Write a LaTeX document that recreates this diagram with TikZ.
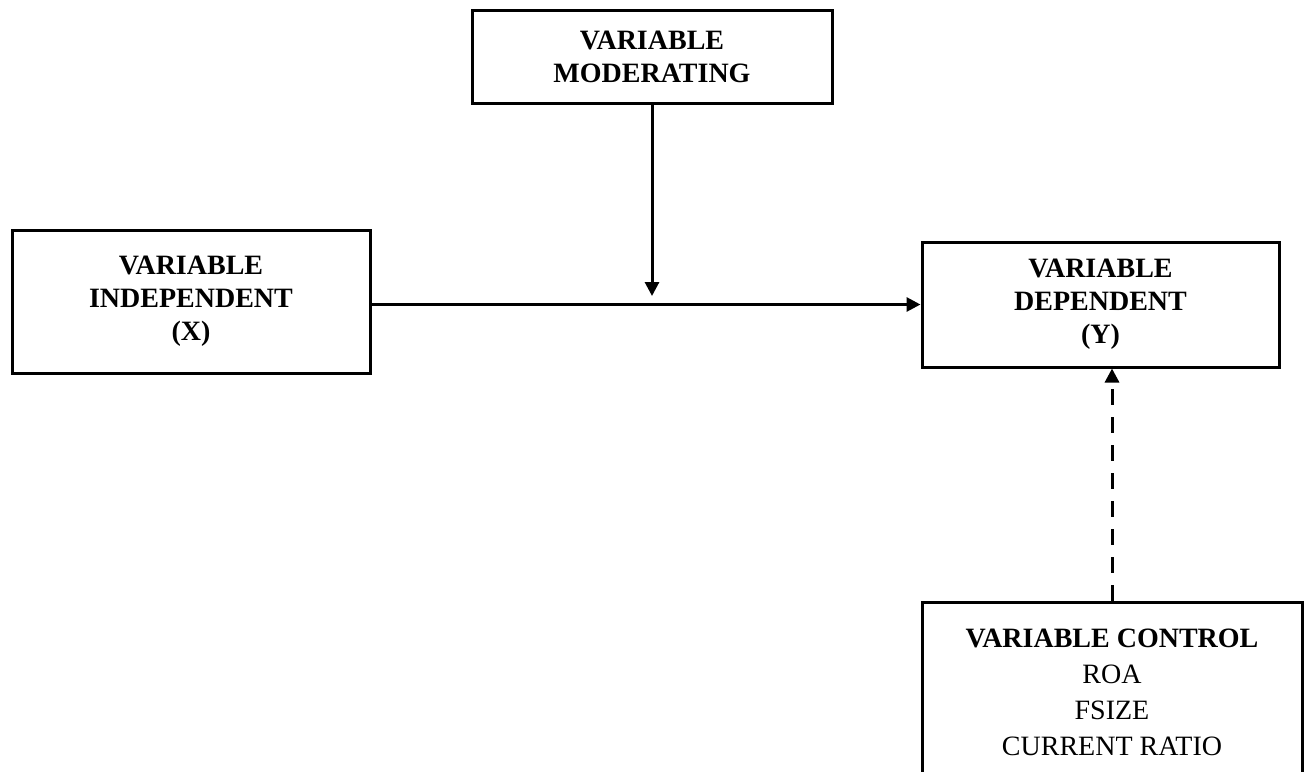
\documentclass[tikz,border=0pt]{standalone}
\usepackage{fontspec}
\setmainfont{Liberation Serif}
\usetikzlibrary{positioning,arrows.meta}

\begin{document}
\begin{tikzpicture}[x=0.5pt,y=-0.5pt,
    varbox/.style={draw, line width=1.5pt, align=center, inner sep=0pt,
        font=\fontsize{14}{16.5}\selectfont},
    link/.style={line width=1.5pt, -{Triangle[length=7pt,width=7pt]}},
    ctrllink/.style={link, dash pattern=on 8pt off 6pt}]
    \useasboundingbox (0,0) rectangle (1305,771);
    \clip (0,0) rectangle (1305,771);

    % Variable boxes
    \node[varbox, minimum width=180pt, minimum height=46.5pt] (mod) at (652,56.5)
        {\textbf{VARIABLE}\\\textbf{MODERATING}};
    \node[varbox, minimum width=179pt, minimum height=71.5pt] (ind) at (191,301.5)
        {\textbf{VARIABLE}\\\textbf{INDEPENDENT}\\\textbf{(X)}};
    \node[varbox, minimum width=178.5pt, minimum height=62.5pt] (dep) at (1100.5,304.5)
        {\textbf{VARIABLE}\\\textbf{DEPENDENT}\\\textbf{(Y)}};

    % Control box (runs off the bottom edge)
    \node[varbox, minimum width=190pt, minimum height=90pt,
        font=\fontsize{14}{18}\selectfont] (ctrl) at (1112,692)
        {\textbf{VARIABLE CONTROL}\\ROA\\FSIZE\\CURRENT RATIO};

    % Connectors
    \coordinate (join) at (652,296);
    \draw[link] (ind.east |- dep.west) -- (dep.west);
    \draw[link] (mod.south) -- (join);
    \draw[ctrllink] (ctrl.north) -- (ctrl.north |- dep.south);
\end{tikzpicture}
\end{document}
